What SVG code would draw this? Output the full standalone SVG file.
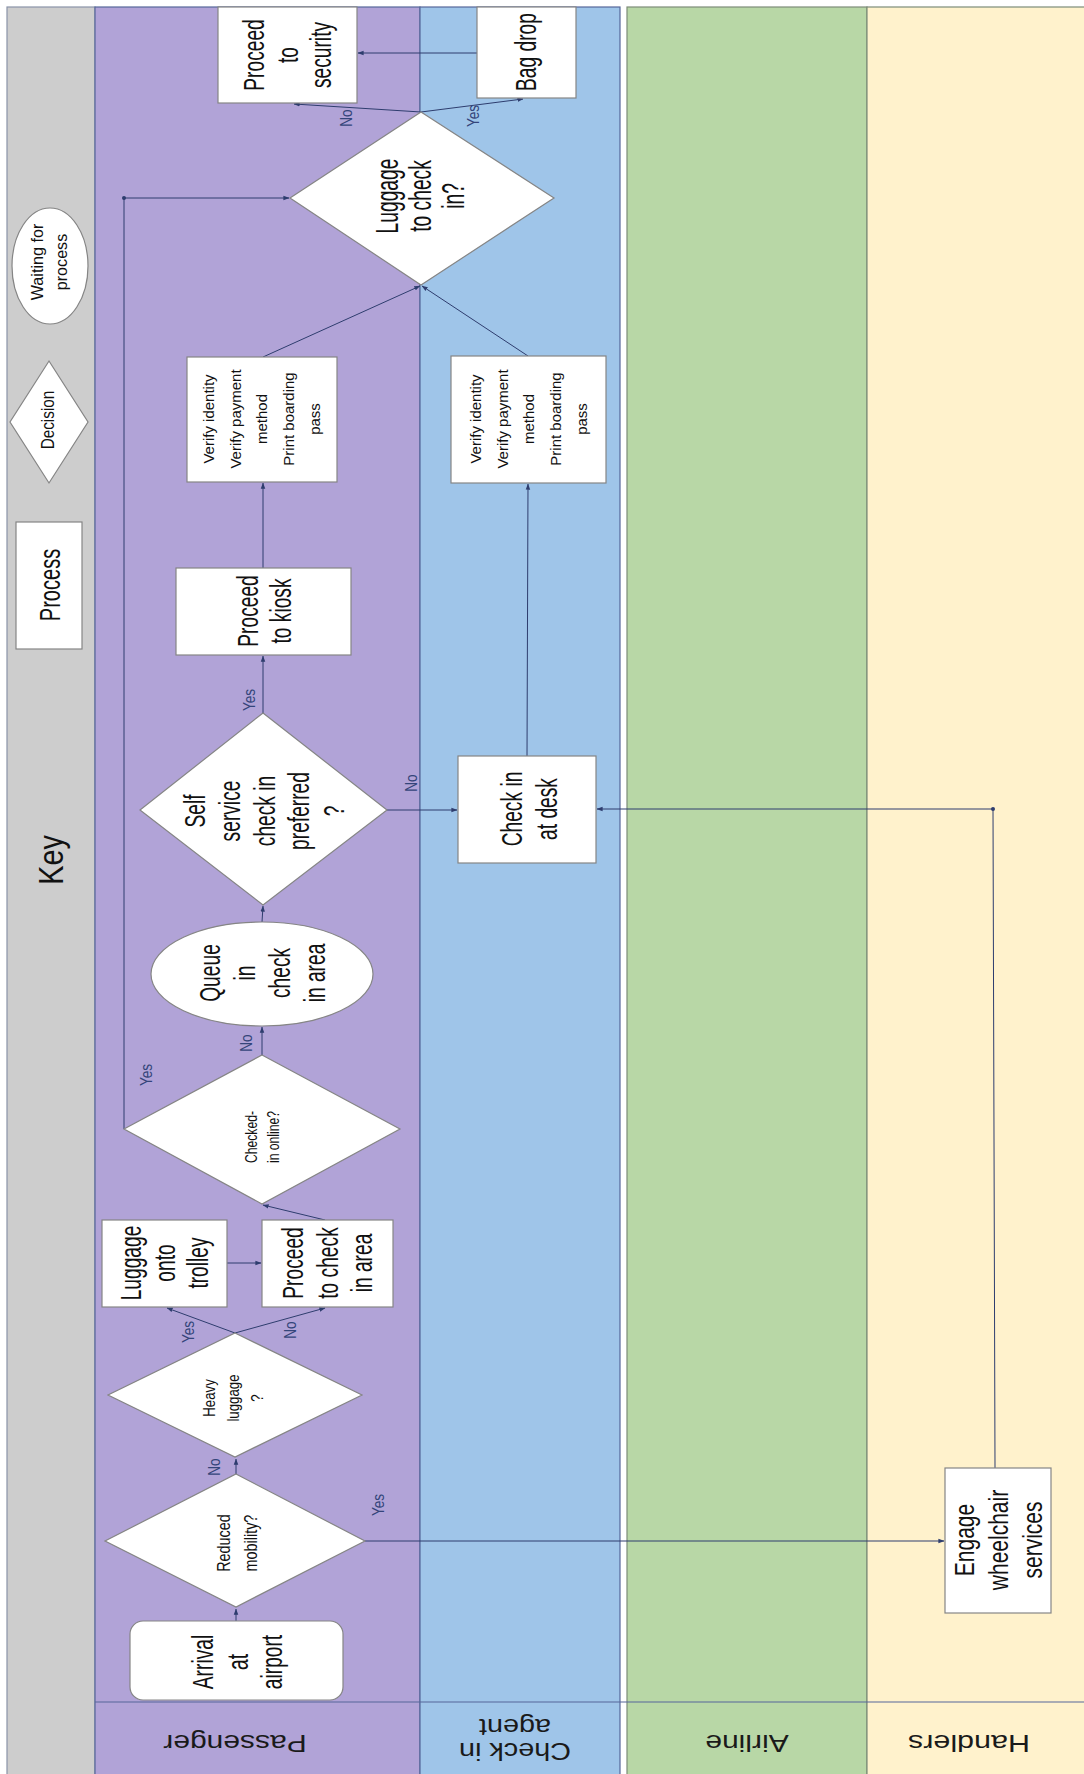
<svg xmlns="http://www.w3.org/2000/svg" width="1084" height="1774" viewBox="0 0 1084 1774">
  <defs>
    <style>
      .lane { stroke-width: 1.2; }
      .node { fill: #ffffff; stroke: #858585; stroke-width: 1.2; }
      .t { font-family: "Liberation Sans", Arial, sans-serif; fill: #111111; text-anchor: middle; }
      .big { font-size: 30px; }
      .lbl { font-family: "Liberation Sans", Arial, sans-serif; font-size: 16px; fill: #34457a; text-anchor: middle; }
      .lane-title { font-family: "Liberation Sans", Arial, sans-serif; font-size: 24px; fill: #1a1a1a; text-anchor: middle; }
      .conn { fill: none; stroke: #2e3d6e; stroke-width: 1; }
    </style>
    <marker id="ah" viewBox="0 0 8 8" refX="7.5" refY="4" markerWidth="6" markerHeight="6" orient="auto" markerUnits="userSpaceOnUse">
      <path d="M0,1 L8,4 L0,7 z" fill="#2e3d6e"/>
    </marker>
  </defs>

  <rect width="1084" height="1774" fill="#ffffff"/>

  <!-- swimlanes -->
  <g id="lanes">
    <rect class="lane" x="7" y="7" width="88" height="1772" fill="#cdcdcd" stroke="#8a93a8"/>
    <rect class="lane" x="95" y="7" width="325" height="1772" fill="#b1a3d7" stroke="#56679a"/>
    <rect class="lane" x="420" y="7" width="200" height="1772" fill="#9fc5e9" stroke="#56679a"/>
    <rect class="lane" x="627" y="7" width="240" height="1772" fill="#b8d7a6" stroke="#7c8c78"/>
    <rect class="lane" x="867" y="7" width="220" height="1772" fill="#fff2cc" stroke="#7c8c78"/>
    <line x1="95" y1="1702" x2="1084" y2="1702" stroke="#56679a" stroke-width="1.2"/>
    <text class="lane-title" transform="translate(235,1735) rotate(180) scale(1.25,1)">Passenger</text>
    <text class="lane-title" transform="translate(515,1743) rotate(180) scale(1.2,1)"><tspan x="0" y="0">Check in</tspan><tspan x="0" y="24">agent</tspan></text>
    <text class="lane-title" transform="translate(747,1735) rotate(180) scale(1.25,1)">Airline</text>
    <text class="lane-title" transform="translate(969,1735) rotate(180) scale(1.27,1)">Handlers</text>
  </g>

  <!-- key -->
  <g id="key">
    <text class="t" font-size="36" transform="translate(50,860) rotate(-90) scale(0.8,1)" y="12.6">Key</text>
    <g id="key-process">
      <rect class="node" x="16" y="522" width="66" height="127"/>
      <text class="t big" transform="translate(49,585) rotate(-90) scale(0.67,1)" y="10.5">Process</text>
    </g>
    <g id="key-decision">
      <polygon class="node" points="49,361 88,422 49,483 10,422"/>
      <text class="t" font-size="18" transform="translate(48,420) rotate(-90) scale(0.85,1)" y="6.3">Decision</text>
    </g>
    <g id="key-waiting">
      <ellipse class="node" cx="50" cy="266" rx="38" ry="58"/>
      <text class="t" font-size="17" transform="translate(49,262) rotate(-90) scale(0.95,1)"><tspan x="0" y="-6.5">Waiting for</tspan><tspan x="0" y="18.5">process</tspan></text>
    </g>
  </g>

  <!-- connectors -->
  <g id="connectors">
    <path class="conn" d="M236,1621 L236,1609" marker-end="url(#ah)"/>
    <path class="conn" d="M236,1474 L236,1459" marker-end="url(#ah)"/>
    <path class="conn" d="M365,1541 L944,1541" marker-end="url(#ah)"/>
    <path class="conn" d="M995,1468 L993,809 L597,809" marker-end="url(#ah)"/>
    <circle cx="993" cy="809" r="2" fill="#2e3d6e"/>
    <path class="conn" d="M235,1333 L167,1308" marker-end="url(#ah)"/>
    <path class="conn" d="M235,1333 L325,1308" marker-end="url(#ah)"/>
    <path class="conn" d="M227,1263 L261,1263" marker-end="url(#ah)"/>
    <path class="conn" d="M325,1220 L263,1205" marker-end="url(#ah)"/>
    <path class="conn" d="M262,1055 L262,1027" marker-end="url(#ah)"/>
    <path class="conn" d="M124,1129 L124,198 L289,198" marker-end="url(#ah)"/>
    <circle cx="124" cy="198" r="2" fill="#2e3d6e"/>
    <path class="conn" d="M262,922 L263,906" marker-end="url(#ah)"/>
    <path class="conn" d="M263,713 L263,656" marker-end="url(#ah)"/>
    <path class="conn" d="M387,810 L457,810" marker-end="url(#ah)"/>
    <path class="conn" d="M263,568 L263,483" marker-end="url(#ah)"/>
    <path class="conn" d="M527,756 L528,484" marker-end="url(#ah)"/>
    <path class="conn" d="M263,357 L420,286" marker-end="url(#ah)"/>
    <path class="conn" d="M528,356 L422,286" marker-end="url(#ah)"/>
    <path class="conn" d="M421,112 L294,104" marker-end="url(#ah)"/>
    <path class="conn" d="M421,112 L523,99" marker-end="url(#ah)"/>
    <path class="conn" d="M477,53 L358,53" marker-end="url(#ah)"/>

    <text class="lbl" transform="translate(352,118) rotate(-90) scale(0.85,1)">No</text>
    <text class="lbl" transform="translate(479,116) rotate(-90) scale(0.85,1)">Yes</text>
    <text class="lbl" transform="translate(255,700) rotate(-90) scale(0.85,1)">Yes</text>
    <text class="lbl" transform="translate(417,783) rotate(-90) scale(0.85,1)">No</text>
    <text class="lbl" transform="translate(152,1075) rotate(-90) scale(0.85,1)">Yes</text>
    <text class="lbl" transform="translate(252,1043) rotate(-90) scale(0.85,1)">No</text>
    <text class="lbl" transform="translate(194,1332) rotate(-90) scale(0.85,1)">Yes</text>
    <text class="lbl" transform="translate(296,1330) rotate(-90) scale(0.85,1)">No</text>
    <text class="lbl" transform="translate(220,1467) rotate(-90) scale(0.85,1)">No</text>
    <text class="lbl" transform="translate(384,1505) rotate(-90) scale(0.85,1)">Yes</text>
  </g>

  <!-- passenger lane -->
  <g id="arrival">
    <rect class="node" x="130" y="1621" width="213" height="79" rx="13"/>
    <text class="t big" transform="translate(237,1662) rotate(-90) scale(0.64,1)"><tspan x="0" y="-24.5">Arrival</tspan><tspan x="0" y="10.5">at</tspan><tspan x="0" y="45.5">airport</tspan></text>
  </g>
  <g id="reduced-mobility">
    <polygon class="node" points="236,1474 365,1541 236,1607 105,1541"/>
    <text class="t" font-size="18" transform="translate(237,1543) rotate(-90) scale(0.8,1)"><tspan x="0" y="-7.2">Reduced</tspan><tspan x="0" y="19.8">mobility?</tspan></text>
  </g>
  <g id="heavy-luggage">
    <polygon class="node" points="235,1333 362,1395 235,1457 108,1395"/>
    <text class="t" font-size="17" transform="translate(233,1398) rotate(-90) scale(0.78,1)"><tspan x="0" y="-18">Heavy</tspan><tspan x="0" y="6">luggage</tspan><tspan x="0" y="30">?</tspan></text>
  </g>
  <g id="luggage-trolley">
    <rect class="node" x="102" y="1220" width="125" height="87"/>
    <text class="t big" transform="translate(164,1263) rotate(-90) scale(0.64,1)"><tspan x="0" y="-23.5">Luggage</tspan><tspan x="0" y="10.5">onto</tspan><tspan x="0" y="44.5">trolley</tspan></text>
  </g>
  <g id="proceed-checkin-area">
    <rect class="node" x="262" y="1220" width="131" height="87"/>
    <text class="t big" transform="translate(327,1263) rotate(-90) scale(0.64,1)"><tspan x="0" y="-24.5">Proceed</tspan><tspan x="0" y="10.5">to check</tspan><tspan x="0" y="45.5">in area</tspan></text>
  </g>
  <g id="checked-online">
    <polygon class="node" points="262,1055 400,1129 262,1204 124,1129"/>
    <text class="t" font-size="16" transform="translate(262,1137) rotate(-90) scale(0.76,1)"><tspan x="0" y="-5.4">Checked-</tspan><tspan x="0" y="16.6">in online?</tspan></text>
  </g>
  <g id="queue">
    <ellipse class="node" cx="262" cy="974" rx="111" ry="52"/>
    <text class="t big" transform="translate(262,973) rotate(-90) scale(0.64,1)"><tspan x="0" y="-42">Queue</tspan><tspan x="0" y="-7">in</tspan><tspan x="0" y="28">check</tspan><tspan x="0" y="63">in area</tspan></text>
  </g>
  <g id="self-service">
    <polygon class="node" points="263,713 387,810 263,905 140,810"/>
    <text class="t big" transform="translate(264,811) rotate(-90) scale(0.64,1)"><tspan x="0" y="-59.5">Self</tspan><tspan x="0" y="-24.5">service</tspan><tspan x="0" y="10.5">check in</tspan><tspan x="0" y="45.5">preferred</tspan><tspan x="0" y="80.5">?</tspan></text>
  </g>
  <g id="proceed-kiosk">
    <rect class="node" x="176" y="568" width="175" height="87"/>
    <text class="t big" transform="translate(264,611) rotate(-90) scale(0.64,1)"><tspan x="0" y="-6.5">Proceed</tspan><tspan x="0" y="27.5">to kiosk</tspan></text>
  </g>
  <g id="verify-kiosk">
    <rect class="node" x="187" y="357" width="150" height="125"/>
    <text class="t" font-size="15" transform="translate(262,419) rotate(-90)"><tspan x="0" y="-47.75">Verify identity</tspan><tspan x="0" y="-21.25">Verify payment</tspan><tspan x="0" y="5.25">method</tspan><tspan x="0" y="31.75">Print boarding</tspan><tspan x="0" y="58.25">pass</tspan></text>
  </g>
  <g id="luggage-check">
    <polygon class="node" points="421,112 554,198 421,285 290,198"/>
    <text class="t" font-size="31" transform="translate(420,196) rotate(-90) scale(0.62,1)"><tspan x="0" y="-22.15">Luggage</tspan><tspan x="0" y="10.85">to check</tspan><tspan x="0" y="43.85">in?</tspan></text>
  </g>
  <g id="proceed-security">
    <rect class="node" x="218" y="7" width="139" height="96"/>
    <text class="t big" transform="translate(287,55) rotate(-90) scale(0.64,1)"><tspan x="0" y="-23.5">Proceed</tspan><tspan x="0" y="10.5">to</tspan><tspan x="0" y="44.5">security</tspan></text>
  </g>

  <!-- check in agent lane -->
  <g id="bag-drop">
    <rect class="node" x="477" y="7" width="99" height="91"/>
    <text class="t big" transform="translate(525,52) rotate(-90) scale(0.64,1)" y="10.5">Bag drop</text>
  </g>
  <g id="verify-desk">
    <rect class="node" x="451" y="356" width="155" height="127"/>
    <text class="t" font-size="15" transform="translate(529,419) rotate(-90)"><tspan x="0" y="-47.75">Verify identity</tspan><tspan x="0" y="-21.25">Verify payment</tspan><tspan x="0" y="5.25">method</tspan><tspan x="0" y="31.75">Print boarding</tspan><tspan x="0" y="58.25">pass</tspan></text>
  </g>
  <g id="checkin-desk">
    <rect class="node" x="458" y="756" width="138" height="107"/>
    <text class="t big" transform="translate(529,809) rotate(-90) scale(0.64,1)"><tspan x="0" y="-7">Check in</tspan><tspan x="0" y="28">at desk</tspan></text>
  </g>

  <!-- handlers lane -->
  <g id="wheelchair">
    <rect class="node" x="945" y="1468" width="106" height="145"/>
    <text class="t" font-size="28" transform="translate(998,1540) rotate(-90) scale(0.75,1)"><tspan x="0" y="-24.2">Engage</tspan><tspan x="0" y="9.8">wheelchair</tspan><tspan x="0" y="43.8">services</tspan></text>
  </g>
</svg>
